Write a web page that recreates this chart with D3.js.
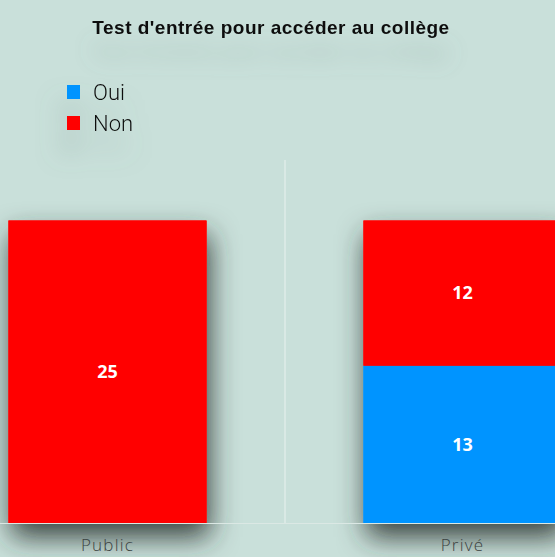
<!DOCTYPE html>
<html><head><meta charset="utf-8">
<script src="https://cdn.jsdelivr.net/npm/d3@7"></script>
<style>
html,body{margin:0;padding:0;background:#c9e0da;overflow:hidden;}
svg{display:block;}
</style></head>
<body>
<svg id="chart" width="555" height="557"></svg>
<script>
const categories = ["Public", "Privé"];
const seriesNames = ["Oui", "Non"];
const ouiValues = [0, 13];
const nonValues = [25, 12];
const seriesColors = ["#0094ff", "#ff0000"];
const yMax = 30;
const title = "Test d'entrée pour accéder au collège";

const W = 555, H = 557;
const svg = d3.select("#chart");
const defs = svg.append("defs");
const f = defs.append("filter").attr("id","shadow").attr("x","-50%").attr("y","-50%").attr("width","200%").attr("height","200%");
f.append("feDropShadow").attr("dx",3).attr("dy",14).attr("stdDeviation",14).attr("flood-color","#26332f").attr("flood-opacity",0.9);
const ft = defs.append("filter").attr("id","tshadow").attr("x","-50%").attr("y","-100%").attr("width","200%").attr("height","400%");
ft.append("feDropShadow").attr("dx",0).attr("dy",24).attr("stdDeviation",11).attr("flood-color","#6f8883").attr("flood-opacity",0.4);
const fl = defs.append("filter").attr("id","lshadow").attr("x","-100%").attr("y","-100%").attr("width","300%").attr("height","300%");
fl.append("feDropShadow").attr("dx",-4).attr("dy",20).attr("stdDeviation",13).attr("flood-color","#6f8883").attr("flood-opacity",0.5);

svg.append("rect").attr("width",W).attr("height",H).attr("fill","#c9e0da");

const x = d3.scaleBand().domain(categories).range([-70, 640]).paddingInner(0.442).paddingOuter(0.221);
const y = d3.scaleLinear().domain([0, yMax]).range([523, 160]);

const data = categories.map((c,i)=>({cat:c, Oui:ouiValues[i], Non:nonValues[i]}));
const stack = d3.stack().keys(seriesNames)(data);

// divider line
svg.append("line").attr("x1",285).attr("x2",285).attr("y1",y(yMax)).attr("y2",y(0))
  .attr("stroke","#e4efec").attr("stroke-width",1.2);

const g = svg.append("g");
const shadowG = g.append("g").attr("filter","url(#shadow)");
stack.forEach((layer,si)=>{
  shadowG.selectAll(null).data(layer.filter(d=>d[1]-d[0]>0)).enter().append("rect")
    .attr("x",d=>x(d.data.cat)).attr("width",x.bandwidth())
    .attr("y",d=>y(d[1])).attr("height",d=>y(d[0])-y(d[1]))
    .attr("fill",seriesColors[si]);
});
stack.forEach((layer,si)=>{
  g.selectAll(null).data(layer.filter(d=>d[1]-d[0]>0)).enter().append("rect")
    .attr("x",d=>x(d.data.cat)).attr("width",x.bandwidth())
    .attr("y",d=>y(d[1])).attr("height",d=>y(d[0])-y(d[1]))
    .attr("fill",seriesColors[si]);
  g.selectAll(null).data(layer.filter(d=>d[1]-d[0]>0)).enter().append("text")
    .attr("x",d=>x(d.data.cat)+x.bandwidth()/2).attr("y",d=>(y(d[0])+y(d[1]))/2)
    .attr("dy","0.35em").attr("text-anchor","middle")
    .attr("font-family","'Open Sans', sans-serif").attr("font-weight","bold").attr("font-size",18)
    .attr("fill","#fff").text(d=>d[1]-d[0]);
});

// baseline
svg.append("line").attr("x1",0).attr("x2",W).attr("y1",y(0)+0.5).attr("y2",y(0)+0.5)
  .attr("stroke","#dbe8e4").attr("stroke-width",1);

// x axis
const xAxis = svg.append("g").attr("transform",`translate(0,${y(0)})`)
  .call(d3.axisBottom(x).tickSize(0).tickPadding(0));
xAxis.select(".domain").remove();
xAxis.selectAll("text").attr("y",28).attr("dy",0)
  .attr("font-family","'Open Sans', sans-serif").attr("font-weight",300)
  .attr("font-size",17).attr("letter-spacing","1.2px").attr("fill","#3a4240");

// title
svg.append("text").attr("x",271).attr("y",34).attr("text-anchor","middle")
  .attr("font-family","'Liberation Sans', Arial, sans-serif").attr("font-weight","bold").attr("font-size",19)
  .attr("letter-spacing","0.5px")
  .attr("fill","#111").attr("filter","url(#tshadow)").text(title);

// legend
const leg = svg.append("g").attr("filter","url(#lshadow)");
seriesNames.forEach((s,i)=>{
  const yy = 92 + i*31;
  leg.append("rect").attr("x",67).attr("y",yy-7).attr("width",13).attr("height",14).attr("fill",seriesColors[i]);
  leg.append("text").attr("x",93).attr("y",yy).attr("dy","0.36em")
    .attr("font-family","Roboto, sans-serif").attr("font-weight",300).attr("font-size",22)
    .attr("fill","#111").text(s);
});
</script>
</body></html>
